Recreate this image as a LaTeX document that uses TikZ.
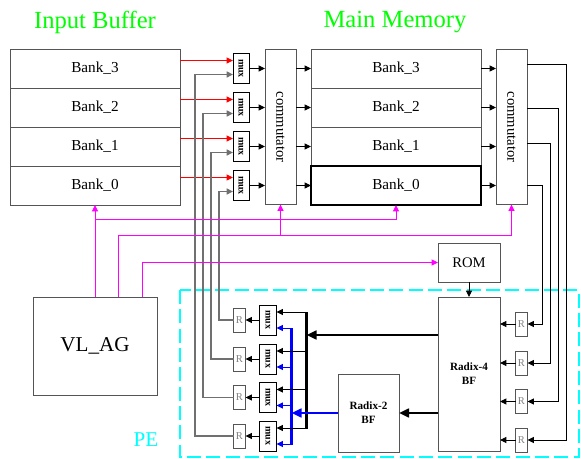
\documentclass[tikz,border=0pt]{standalone}
\usepackage{fontspec}
\setmainfont{Liberation Serif}
\usetikzlibrary{arrows.meta,positioning,calc}
\definecolor{bufgreen}{HTML}{00FF00}
\definecolor{ctlmagenta}{HTML}{FF00FF}
\definecolor{pecyan}{HTML}{00FFFF}
\definecolor{datared}{HTML}{FF0000}
\definecolor{twoblue}{HTML}{0000FF}
\definecolor{wiregray}{HTML}{707070}
\definecolor{boxgray}{HTML}{555555}

\begin{document}
\begin{tikzpicture}[
        x=0.03cm, y=-0.03cm,
        box/.style={
          draw=boxgray,
          line width=0.8pt,
          inner sep=0pt,
          outer sep=0pt,
          align=center
        },
        bank/.style={
          box,
          minimum width=5.1cm,
          minimum height=1.17cm,
          font=\fontsize{13}{15}\selectfont
        },
        muxbox/.style={
          box,
          draw=black,
          minimum width=0.48cm,
          minimum height=0.9cm,
          font=\fontsize{8.5}{8.5}\selectfont\bfseries
        },
        commbox/.style={
          box,
          minimum width=0.93cm,
          minimum height=4.65cm,
          font=\fontsize{12.5}{14}\selectfont
        },
        regbox/.style={
          box,
          minimum width=0.36cm,
          minimum height=0.72cm,
          text=gray,
          font=\fontsize{9}{10}\selectfont
        },
        title/.style={
          text=bufgreen,
          font=\fontsize{21}{24}\selectfont
        },
        arrow/.style={
          -{Triangle[length=1.9mm,width=1.8mm]},
          line width=0.7pt
        },
        feed/.style={
          arrow,
          draw=wiregray,
          line width=1.1pt
        },
        redarrow/.style={
          arrow,
          datared,
          line width=0.9pt
        },
        ctl/.style={
          arrow,
          ctlmagenta
        },
        fatarrow/.style={
          -{Triangle[length=3mm,width=2.6mm]},
          line width=2.2pt
        }
      ]

      \useasboundingbox (0,0) rectangle (581,459);

      \node[title] (ibtitle) at (95,22) {Input Buffer};
      \node[title] (mmtitle) at (395,22) {Main Memory};

      % input buffer and main memory
      \node[bank] (ib3) at (95,68.5) {Bank\_3};
      \node[bank, below=0pt of ib3] (ib2) {Bank\_2};
      \node[bank, below=0pt of ib2] (ib1) {Bank\_1};
      \node[bank, below=0pt of ib1] (ib0) {Bank\_0};

      \node[bank] (mm3) at (396,68.5) {Bank\_3};
      \node[bank, below=0pt of mm3] (mm2) {Bank\_2};
      \node[bank, below=0pt of mm2] (mm1) {Bank\_1};
      \node[bank, below=0pt of mm1, draw=black, line width=1.3pt] (mm0) {Bank\_0};

      \node[muxbox, right=1.59cm of ib3] (muxa3) {\rotatebox{-90}{mux}};
      \node[muxbox, right=1.59cm of ib2] (muxa2) {\rotatebox{-90}{mux}};
      \node[muxbox, right=1.59cm of ib1] (muxa1) {\rotatebox{-90}{mux}};
      \node[muxbox, right=1.59cm of ib0] (muxa0) {\rotatebox{-90}{mux}};

      \node[commbox] (comm1) at (280.5,127) {\rotatebox{-90}{commutator}};
      \node[commbox] (comm2) at (511.5,127) {\rotatebox{-90}{commutator}};

      % control and PE
      \node[box, minimum width=3.72cm, minimum height=2.94cm,
        font=\fontsize{18}{20}\selectfont] (vlag) at (95,346) {VL\_AG};
      \node[box, minimum width=1.86cm, minimum height=1.17cm,
        font=\fontsize{12.5}{14}\selectfont] (rom) at (469,262.5) {ROM};
      \node[box, minimum width=1.86cm, minimum height=4.62cm,
        font=\fontsize{9.5}{12}\selectfont\bfseries] (radix4) at (469,374) {Radix-4\\BF};
      \node[box, minimum width=1.83cm, minimum height=2.34cm,
        font=\fontsize{9.5}{12}\selectfont\bfseries] (radix2) at (368.5,413) {Radix-2\\BF};

      \node[regbox] (regl0) at (239.5,320) {R};
      \node[regbox] (regl1) at (239.5,359) {R};
      \node[regbox] (regl2) at (239.5,397.5) {R};
      \node[regbox] (regl3) at (239.5,436) {R};

      \node[muxbox, minimum width=0.51cm, right=0.42cm of regl0] (muxp0) {\rotatebox{-90}{mux}};
      \node[muxbox, minimum width=0.51cm, right=0.42cm of regl1] (muxp1) {\rotatebox{-90}{mux}};
      \node[muxbox, minimum width=0.51cm, right=0.42cm of regl2] (muxp2) {\rotatebox{-90}{mux}};
      \node[muxbox, minimum width=0.51cm, right=0.42cm of regl3] (muxp3) {\rotatebox{-90}{mux}};

      \node[regbox] (regr0) at (521.5,324) {R};
      \node[regbox] (regr1) at (521.5,363) {R};
      \node[regbox] (regr2) at (521.5,401.5) {R};
      \node[regbox] (regr3) at (521.5,440) {R};

      \draw[pecyan, line width=1.3pt, dash pattern=on 0.42cm off 0.16cm] (180,290) rectangle (579,457);
      \node[text=pecyan, font=\fontsize{18}{20}\selectfont] (pe) at (146,440) {PE};

      % data path
      \draw[redarrow] ($(ib3.east)+(0,-8)$) -- ($(muxa3.west)+(0,-8)$);
      \draw[redarrow] ($(ib2.east)+(0,-8)$) -- ($(muxa2.west)+(0,-8)$);
      \draw[redarrow] ($(ib1.east)+(0,-8)$) -- ($(muxa1.west)+(0,-8)$);
      \draw[redarrow] ($(ib0.east)+(0,-8)$) -- ($(muxa0.west)+(0,-8)$);

      \draw[feed] (regl0.west) -- ++(-14.5,0) |- ($(muxa0.west)+(0,6)$);
      \draw[feed] (regl1.west) -- ++(-22.5,0) |- ($(muxa1.west)+(0,6)$);
      \draw[feed] (regl2.west) -- ++(-30.5,0) |- ($(muxa2.west)+(0,6)$);
      \draw[feed] (regl3.west) -- ++(-38.5,0) |- ($(muxa3.west)+(0,6)$);

      \draw[arrow] (muxa3.east) -- (muxa3.east -| comm1.west);
      \draw[arrow] (muxa2.east) -- (muxa2.east -| comm1.west);
      \draw[arrow] (muxa1.east) -- (muxa1.east -| comm1.west);
      \draw[arrow] (muxa0.east) -- (muxa0.east -| comm1.west);

      \draw[arrow] (comm1.east |- mm3) -- (mm3.west);
      \draw[arrow] (comm1.east |- mm2) -- (mm2.west);
      \draw[arrow] (comm1.east |- mm1) -- (mm1.west);
      \draw[arrow] (comm1.east |- mm0) -- (mm0.west);

      \draw[arrow] (mm3.east) -- (mm3.east -| comm2.west);
      \draw[arrow] (mm2.east) -- (mm2.east -| comm2.west);
      \draw[arrow] (mm1.east) -- (mm1.east -| comm2.west);
      \draw[arrow] (mm0.east) -- (mm0.east -| comm2.west);

      \draw[arrow] ($(comm2.east |- mm3)+(0,-4.5)$) -- ++(39,0) |- (regr3.east);
      \draw[arrow] ($(comm2.east |- mm2)+(0,0.5)$) -- ++(31,0) |- (regr2.east);
      \draw[arrow] ($(comm2.east |- mm1)+(0,-3.5)$) -- ++(23,0) |- (regr1.east);
      \draw[arrow] ($(comm2.east |- mm0)+(0,-0.5)$) -- ++(15,0) |- (regr0.east);

      \draw[arrow] (regr0.west) -- (regr0.west -| radix4.east);
      \draw[arrow] (regr1.west) -- (regr1.west -| radix4.east);
      \draw[arrow] (regr2.west) -- (regr2.west -| radix4.east);
      \draw[arrow] (regr3.west) -- (regr3.west -| radix4.east);

      \draw[arrow] (muxp0.west) -- (regl0.east);
      \draw[arrow] (muxp1.west) -- (regl1.east);
      \draw[arrow] (muxp2.west) -- (regl2.east);
      \draw[arrow] (muxp3.west) -- (regl3.east);

      % butterfly outputs back to the PE muxes
      \coordinate (kbus) at ($(muxp0.east)+(30,-8)$);
      \coordinate (bbus) at ($(muxp0.east)+(15,8)$);
      \draw[line width=2.4pt] (kbus) -- ($(muxp3.east)+(30,-7)$);
      \draw[twoblue, line width=2pt] (bbus) -- ($(muxp3.east)+(15,9)$);

      \draw[arrow] (kbus) -- ($(muxp0.east)+(0,-8)$);
      \draw[arrow] ($(muxp1.east)+(30,-8)$) -- ($(muxp1.east)+(0,-8)$);
      \draw[arrow] ($(muxp2.east)+(30,-8)$) -- ($(muxp2.east)+(0,-8)$);
      \draw[arrow] ($(muxp3.east)+(30,-8)$) -- ($(muxp3.east)+(0,-8)$);

      \draw[arrow, twoblue] (bbus) -- ($(muxp0.east)+(0,8)$);
      \draw[arrow, twoblue] ($(muxp1.east)+(15,8)$) -- ($(muxp1.east)+(0,8)$);
      \draw[arrow, twoblue] ($(muxp2.east)+(15,8)$) -- ($(muxp2.east)+(0,8)$);
      \draw[arrow, twoblue] ($(muxp3.east)+(15,8)$) -- ($(muxp3.east)+(0,8)$);

      \coordinate (r4out) at ($(radix4.west)+(0,-39)$);
      \draw[fatarrow] (r4out) -- (r4out -| kbus);
      \draw[fatarrow] (radix4.west |- radix2) -- (radix2.east);
      \draw[fatarrow, twoblue] (radix2.west) -- (radix2.west -| bbus);
      \draw[arrow] (rom) -- (radix4);

      % address generator
      \draw[ctl] (vlag.north) -- (ib0.south);
      \draw[ctl] ($(ib0.south)+(0,14)$) -| (mm0.south);
      \draw[ctl] ($(vlag.north)+(23,0)$) |- ($(comm2.south)+(0,31)$) -- (comm2.south);
      \draw[ctl] ($(comm1.south)+(0,31)$) -- (comm1.south);
      \draw[ctl] ($(vlag.north)+(47,0)$) |- (rom.west);

      \end{tikzpicture}
\end{document}
